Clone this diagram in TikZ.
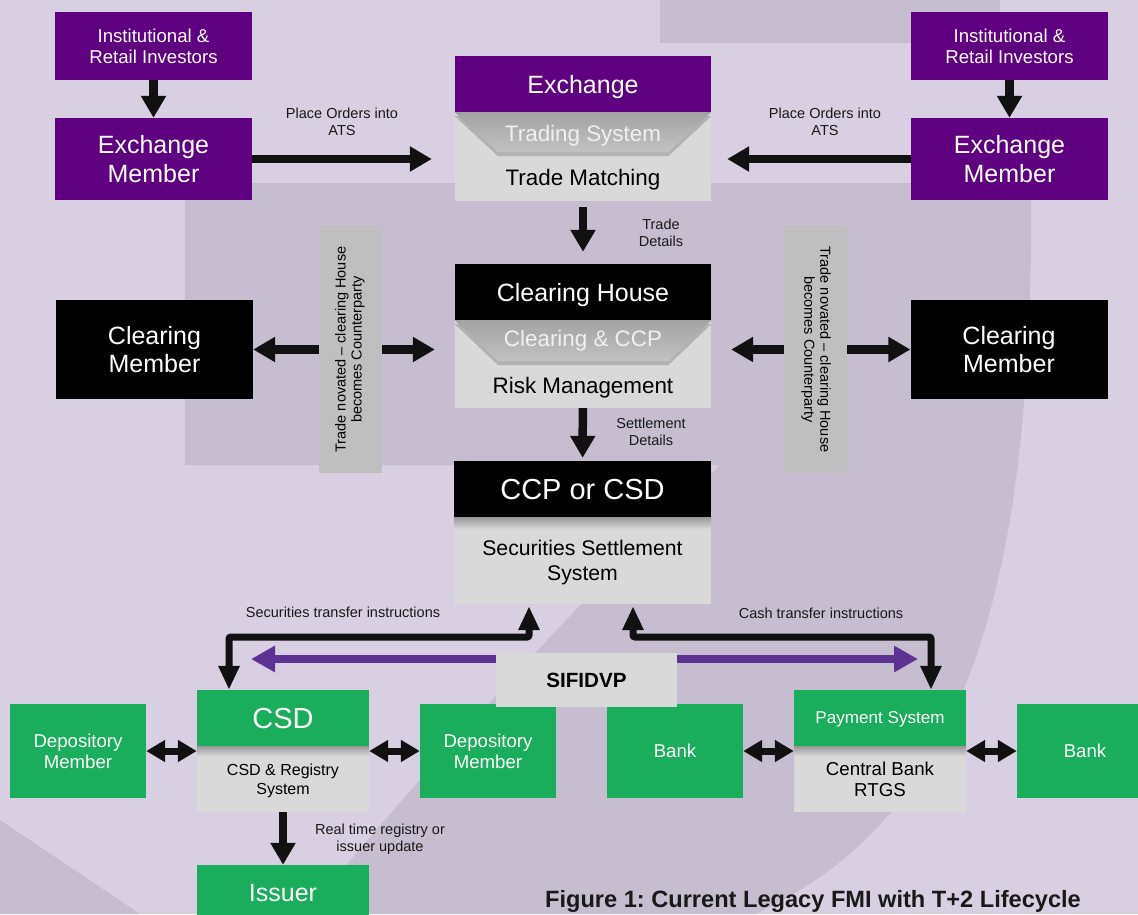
\documentclass[tikz,border=0pt]{standalone}
\usepackage{fontspec}
\setmainfont{Liberation Sans}
\usepackage{tikz}
\usetikzlibrary{arrows.meta}
\usetikzlibrary{positioning}
\definecolor{bglight}{HTML}{D8CFE2}
\definecolor{bgdark}{HTML}{C6BDD0}
\definecolor{fmipurple}{HTML}{5F0080}
\definecolor{fmigreen}{HTML}{1AAD5B}
\definecolor{bodygrey}{HTML}{D9D9D9}
\definecolor{novgrey}{HTML}{BFBFBF}
\definecolor{trapdark}{HTML}{A3A3A3}
\definecolor{traplight}{HTML}{C2C2C2}
\definecolor{arrowblk}{HTML}{111111}
\definecolor{dvppurple}{HTML}{5E3293}
\frenchspacing
\tikzset{
every node/.style={inner sep=0pt, align=center, text depth=0pt}, % sizes come from the styles
box/.style={rectangle, text=white},
purplebox/.style={box, fill=fmipurple},
blackbox/.style={box, fill=black},
greenbox/.style={box, fill=fmigreen},
body/.style={rectangle, fill=bodygrey, text=black},
hdr/.style={minimum width=256pt, minimum height=56pt, font=\fontsize{25}{29}\selectfont},
inv/.style={purplebox, minimum width=197pt, minimum height=68pt, font=\fontsize{18.6}{21}\selectfont},
member/.style={purplebox, minimum width=197pt, minimum height=82pt, font=\fontsize{25}{29}\selectfont},
clmember/.style={blackbox, minimum width=197pt, minimum height=99pt, font=\fontsize{25}{28}\selectfont},
novated/.style={rectangle, fill=novgrey, minimum width=63pt, minimum height=247pt, text depth={}, font=\fontsize{14.5}{16}\selectfont},
depo/.style={greenbox, minimum width=136pt, minimum height=94pt, font=\fontsize{18.6}{20.5}\selectfont},
trap/.style={top color=trapdark, bottom color=traplight},
traptxt/.style={text=white!94!black, font=\fontsize{22.4}{26}\selectfont},
bodytxt/.style={text=black, font=\fontsize{22.4}{26}\selectfont},
lbl/.style={text=black!90, font=\fontsize{14.5}{17}\selectfont},
capt/.style={text=black!90, font=\bfseries\fontsize{23.6}{27}\selectfont},
hshadow/.style={top color=gray!80, bottom color=bodygrey},
blk/.style={ % Thick black block arrows
draw=arrowblk, line width=8.5pt,
-{Triangle[width=24pt,length=22pt]}},
rte/.style={draw=arrowblk, line width=7pt, rounded corners=2pt,
{Triangle[width=20pt,length=24pt]}-{Triangle[width=20pt,length=24pt]}},
dbl/.style={draw=arrowblk, line width=7pt,
{Triangle[width=21pt,length=19pt]}-{Triangle[width=21pt,length=19pt]}},
dvp/.style={draw=dvppurple, line width=8.5pt,
{Triangle[width=25pt,length=24pt]}-{Triangle[width=25pt,length=24pt]}}}

\begin{document}
\begin{tikzpicture}[x=1pt, y=-1pt]
\useasboundingbox (0,0) rectangle (1138,914);
\clip (0,0) rectangle (1138,914);
% background
\fill[bglight] (0,0) rectangle (1138,914);
\fill[bgdark] (660,0) rectangle (1000,43);
\fill[bgdark] (185,183) -- (1031,183) .. controls (1035,600) and (960,820) .. (755,914) -- (305,914) .. controls (450,740) and (600,580) .. (720,465) -- (185,465) -- cycle;
\fill[bgdark] (0,820) -- (140,914) -- (0,914) -- cycle;

% investors and exchange members
\node[inv] (invl) at (153.5,46) {Institutional \&\\Retail Investors};
\node[inv] (invr) at (1009.5,46) {Institutional \&\\Retail Investors};
\node[member] (exml) at (153.5,159) {Exchange\\Member};
\node[member] (exmr) at (1009.5,159) {Exchange\\Member};

% exchange
\node[body, minimum width=256pt, minimum height=89pt] (exb) at (583,156.5) {};
\node[purplebox, hdr] (exh) at (583,84) {Exchange};
\fill[gray!70!black, opacity=.3] ([yshift=-4pt]exh.south west) -- ([yshift=-4pt]exh.south east) -- ++(-43,40) -- ++(-170,0) -- cycle;
\shade[trap] (exh.south west) -- (exh.south east) -- ++(-43,40) -- ++(-170,0) -- cycle;
\node[traptxt] (exts) at ([yshift=-21pt]exh.south) {Trading System};
\node[bodytxt] (extm) at ([yshift=24pt]exb.south) {Trade Matching};

% clearing house
\node[body, minimum width=256pt, minimum height=88pt] (chb) at (583,364) {};
\node[blackbox, hdr] (chh) at (583,292) {Clearing House};
\fill[gray!70!black, opacity=.3] ([yshift=-4pt]chh.south west) -- ([yshift=-4pt]chh.south east) -- ++(-43,41) -- ++(-170,0) -- cycle;
\shade[trap] (chh.south west) -- (chh.south east) -- ++(-43,41) -- ++(-170,0) -- cycle;
\node[traptxt] (chcc) at ([yshift=-18pt]chh.south) {Clearing \& CCP};
\node[bodytxt] (chrm) at ([yshift=23pt]chb.south) {Risk Management};

% CCP or CSD
\node[body, minimum width=257pt, minimum height=87pt, font=\fontsize{21.2}{25}\selectfont] (ccpb) at (582.5,560.5) {Securities Settlement\\System};
\node[blackbox, hdr, minimum width=257pt, font=\fontsize{29}{33}\selectfont] (ccph) at (582.5,489) {CCP or CSD};
\shade[hshadow] (ccph.south west) rectangle ([yshift=-12pt]ccph.south east);

% clearing members
\node[clmember] (clml) at (154.5,349.5) {Clearing\\Member};
\node[clmember] (clmr) at (1009,349.5) {Clearing\\Member};
\node[novated] (novl) at (350.5,349.5) {\rotatebox{90}{\begin{tabular}{@{}c@{}}Trade novated – clearing House\\becomes Counterparty\end{tabular}}};
\node[novated] (novr) at (815.5,349.5) {\rotatebox{-90}{\begin{tabular}{@{}c@{}}Trade novated – clearing House\\becomes Counterparty\end{tabular}}};

\draw[blk] (invl) -- (exml);
\draw[blk] (invr) -- (exmr);
\draw[blk, shorten >=23pt] (exml) -- (exml -| exb.west);
\draw[blk, shorten >=16pt] (exmr) -- (exmr -| exb.east);
\node[lbl] (pol) at (342,121.5) {Place Orders into\\ATS};
\node[lbl] (por) at (825,121.5) {Place Orders into\\ATS};
\draw[blk, shorten <=6pt, shorten >=12pt] (exb) -- (chh);
\node[lbl] (trd) at (661,233) {Trade\\Details};
\draw[blk, shorten >=3pt] (chb) -- (ccph);
\node[lbl] (std) at (651,432) {Settlement\\Details};
\draw[blk] (novl) -- (clml);
\draw[blk, shorten >=20pt] (novl) -- (novl -| chb.west);
\draw[blk, shorten >=20pt] (novr) -- (novr -| chb.east);
\draw[blk] (novr) -- (clmr);

% settlement layer
\node[body, minimum width=172pt, minimum height=66pt, font=\fontsize{16}{19}\selectfont] (csdb) at (283,779) {CSD \& Registry\\System};
\node[greenbox, minimum width=172pt, minimum height=56pt, font=\fontsize{29}{33}\selectfont] (csdh) at (283,718) {CSD};
\shade[hshadow] (csdh.south west) rectangle ([yshift=-10pt]csdh.south east);
\node[body, minimum width=172pt, minimum height=66pt, font=\fontsize{18.7}{21}\selectfont] (payb) at (880,779) {Central Bank\\RTGS};
\node[greenbox, minimum width=172pt, minimum height=56pt, font=\fontsize{17.1}{20}\selectfont] (payh) at (880,718) {Payment System};
\shade[hshadow] (payh.south west) rectangle ([yshift=-10pt]payh.south east);
\node[depo] (dml) at (78,751) {Depository\\Member};
\node[depo] (dmr) at (488,751) {Depository\\Member};
\node[depo] (bankl) at (675,751) {Bank};
\node[depo] (bankr) at (1085,751) {Bank};
\node[greenbox, minimum width=172pt, minimum height=56pt, font=\fontsize{25}{29}\selectfont] (iss) at (283,893) {Issuer};

\coordinate (cdj) at (229,637);
\coordinate (sj) at (529,637);
\coordinate (cj) at (633,637);
\coordinate (pj) at (931,637);
\coordinate (dvpl) at (251,659);
\coordinate (dvpr) at (918,659);

\draw[dvp] (dvpl) -- (dvpr);
\node[body, minimum width=181pt, minimum height=54pt, font=\bfseries\fontsize{20.6}{24}\selectfont] (sifi) at (586.5,680) {SIFIDVP};
\draw[rte, shorten <=2pt] (sj |- ccpb.south) -- (sj) -- (cdj) -- (cdj |- csdh.north);
\draw[rte, shorten <=2pt] (cj |- ccpb.south) -- (cj) -- (pj) -- (pj |- payh.north);
\node[lbl] (sti) at (343,612) {Securities transfer instructions};
\node[lbl] (cti) at (821,613) {Cash transfer instructions};

\draw[dbl] (dml) -- (dml -| csdb.west);
\draw[dbl] (dmr) -- (dmr -| csdb.east);
\draw[dbl] (bankl) -- (bankl -| payb.west);
\draw[dbl] (bankr) -- (bankr -| payb.east);
\draw[blk] (csdb) -- (iss);
\node[lbl] (rtr) at (380,838) {Real time registry or\\issuer update};

\node[capt] (fig) at (813,899) {Figure 1: Current Legacy FMI with T+2 Lifecycle};
\end{tikzpicture}
\end{document}
